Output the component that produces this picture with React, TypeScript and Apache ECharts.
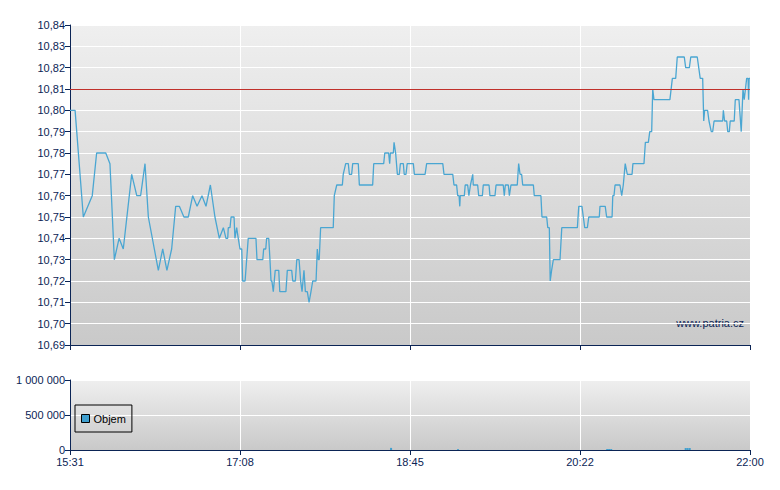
import React, { useEffect, useRef } from 'react';
import * as echarts from 'echarts';

// minuty od 15:31 a cena
const pricePoints: [number, number][] = [
  [0, 10.8], [2.9, 10.8], [7.6, 10.75], [12.7, 10.76], [15.2, 10.78], [20.4, 10.78], [22.8, 10.775],
  [25.3, 10.73], [28.0, 10.74], [30.4, 10.735], [35.2, 10.77], [38.1, 10.76], [40.3, 10.76], [42.8, 10.775],
  [44.7, 10.75], [50.4, 10.725], [52.9, 10.735], [55.3, 10.725], [58.0, 10.735], [60.3, 10.755], [62.4, 10.755],
  [65.0, 10.75], [67.5, 10.75], [70.0, 10.76], [72.5, 10.755], [75.3, 10.76], [77.6, 10.755], [80.1, 10.765],
  [82.7, 10.75], [85.2, 10.74], [87.5, 10.745], [89.0, 10.74], [90.0, 10.74], [90.3, 10.745], [91.3, 10.745],
  [91.9, 10.75], [93.6, 10.75], [94.1, 10.74], [95.1, 10.745], [96.0, 10.74], [97.0, 10.735], [98.0, 10.735],
  [98.5, 10.72], [99.9, 10.72], [100.8, 10.73], [101.7, 10.74], [106.1, 10.74], [106.7, 10.73], [110.0, 10.73],
  [110.5, 10.735], [111.7, 10.735], [112.2, 10.74], [113.4, 10.74], [114.1, 10.73], [114.7, 10.72], [115.2, 10.72],
  [116.0, 10.715], [117.1, 10.725], [119.1, 10.725], [119.7, 10.715], [123.2, 10.715], [124.0, 10.725],
  [126.5, 10.725], [127.1, 10.72], [128.6, 10.72], [129.4, 10.73], [130.7, 10.73], [131.6, 10.72], [132.4, 10.715],
  [133.5, 10.725], [134.3, 10.715], [135.4, 10.715], [136.4, 10.71], [137.5, 10.715], [138.5, 10.72], [140.4, 10.72],
  [141.1, 10.735], [141.7, 10.73], [142.2, 10.73], [143.0, 10.745], [150.2, 10.745], [150.8, 10.76], [152.2, 10.765],
  [155.4, 10.765], [155.9, 10.77], [157.3, 10.775], [158.8, 10.775], [159.4, 10.77], [160.7, 10.77], [161.3, 10.775],
  [164.5, 10.775], [165.1, 10.765], [172.7, 10.765], [173.3, 10.775], [179.0, 10.775], [179.6, 10.78], [181.8, 10.78],
  [182.4, 10.775], [182.8, 10.78], [184.5, 10.78], [184.9, 10.785], [185.8, 10.78], [186.8, 10.77], [187.9, 10.77],
  [188.5, 10.775], [190.2, 10.775], [190.7, 10.77], [191.7, 10.77], [192.4, 10.775], [195.9, 10.775], [196.5, 10.77],
  [202.6, 10.77], [203.5, 10.775], [212.7, 10.775], [213.4, 10.77], [218.4, 10.77], [219.1, 10.765], [220.6, 10.765],
  [221.2, 10.76], [222.0, 10.76], [222.4, 10.755], [222.7, 10.76], [225.0, 10.76], [225.5, 10.765], [226.9, 10.765],
  [227.6, 10.76], [228.5, 10.765], [229.8, 10.77], [230.1, 10.765], [232.6, 10.765], [233.2, 10.76], [235.3, 10.76],
  [235.8, 10.765], [239.1, 10.765], [239.6, 10.76], [242.5, 10.76], [243.1, 10.765], [247.2, 10.765], [247.8, 10.76],
  [248.4, 10.765], [250.1, 10.765], [250.7, 10.76], [251.6, 10.765], [255.2, 10.765], [256.0, 10.775], [256.8, 10.77],
  [257.7, 10.77], [258.3, 10.765], [264.4, 10.765], [264.9, 10.76], [268.7, 10.76], [269.3, 10.75], [272.0, 10.75],
  [272.6, 10.745], [273.5, 10.745], [274.0, 10.72], [274.8, 10.725], [275.8, 10.73], [279.6, 10.73], [280.6, 10.745],
  [289.5, 10.745], [290.3, 10.755], [292.1, 10.755], [292.9, 10.75], [293.7, 10.745], [295.2, 10.745], [296.0, 10.75],
  [302.0, 10.75], [302.4, 10.755], [305.4, 10.755], [306.2, 10.75], [309.3, 10.75], [309.7, 10.76], [310.4, 10.76],
  [311.0, 10.765], [313.8, 10.765], [314.8, 10.76], [315.7, 10.765], [316.8, 10.775], [318.0, 10.77], [320.7, 10.77],
  [321.2, 10.775], [327.5, 10.775], [328.3, 10.785], [330.0, 10.785], [330.8, 10.79], [331.9, 10.79], [332.5, 10.81],
  [333.2, 10.805], [342.3, 10.805], [343.7, 10.815], [345.6, 10.815], [346.5, 10.825], [350.5, 10.825], [351.3, 10.82],
  [353.4, 10.82], [354.2, 10.825], [357.9, 10.825], [359.6, 10.815], [361.0, 10.815], [361.6, 10.795], [362.1, 10.8],
  [363.8, 10.8], [364.6, 10.795], [365.9, 10.79], [366.7, 10.79], [367.5, 10.795], [372.4, 10.795], [372.8, 10.8],
  [373.5, 10.795], [374.7, 10.795], [375.3, 10.79], [376.2, 10.79], [376.7, 10.795], [379.0, 10.795], [379.6, 10.805],
  [381.7, 10.805], [383.0, 10.79], [384.0, 10.81], [384.7, 10.805], [386.1, 10.815], [386.9, 10.815], [387.2, 10.805],
  [387.5, 10.815], [388, 10.815],
];

const volumeTimes = [183.2, 221.4, 306.5, 307.6, 308.8, 351.3, 352.4, 353.6];
const volumeValues = [30000, 12000, 14000, 14000, 14000, 28000, 28000, 28000];

const timeLabels = ['15:31', '17:08', '18:45', '20:22', '22:00'];
const referencePrice = 10.81;

const NAVY = '#0b2455';
const FONT = 'Liberation Sans, Arial, sans-serif';

const bg = () => ({
  type: 'linear', x: 0, y: 0, x2: 0, y2: 1,
  colorStops: [
    { offset: 0, color: '#efefef' },
    { offset: 1, color: '#c9c9c9' },
  ],
});

const App: React.FC = () => {
  const chartRef = useRef<HTMLDivElement>(null);

  useEffect(() => {
    if (!chartRef.current) return;
    const chart = echarts.init(chartRef.current, null, { renderer: 'svg' });

    const xBase = {
      type: 'value',
      min: 0,
      max: 388,
      interval: 97,
      axisLine: { show: true, lineStyle: { color: NAVY, width: 1 } },
      axisTick: { show: true, length: 5, lineStyle: { color: NAVY } },
      splitLine: { show: true, lineStyle: { color: '#ffffff', width: 1 } },
    };

    const option = {
      animation: false,
      textStyle: { fontFamily: FONT },
      grid: [
        { left: 70, right: 30, top: 25, height: 320, show: true, backgroundColor: bg(), borderWidth: 0 },
        { left: 70, right: 30, top: 380, height: 70, show: true, backgroundColor: bg(), borderWidth: 0 },
      ],
      legend: {
        data: ['Objem'],
        left: 75,
        top: 405,
        orient: 'vertical',
        padding: [8, 6, 8, 6],
        borderColor: '#000',
        borderWidth: 1,
        itemWidth: 8,
        itemHeight: 8,
        itemGap: 4,
        icon: 'rect',
        itemStyle: { borderColor: '#000', borderWidth: 1 },
        textStyle: { color: '#000', fontSize: 11, fontFamily: FONT, padding: [0, 0, 0, -1] },
      },
      xAxis: [
        { ...xBase, gridIndex: 0, axisLabel: { show: false } },
        {
          ...xBase,
          gridIndex: 1,
          axisLabel: {
            color: NAVY,
            fontSize: 11,
            fontFamily: FONT,
            margin: 6,
            formatter: (v: number) => timeLabels[Math.round(v / 97)] ?? '',
          },
        },
      ],
      yAxis: [
        {
          type: 'value',
          gridIndex: 0,
          min: 10.69,
          max: 10.84,
          interval: 0.01,
          axisLine: { show: true, lineStyle: { color: NAVY } },
          axisTick: { show: true, length: 5, lineStyle: { color: NAVY } },
          axisLabel: {
            color: NAVY,
            fontSize: 11,
            fontFamily: FONT,
            margin: 5,
            formatter: (v: number) => v.toFixed(2).replace('.', ','),
          },
          splitLine: { lineStyle: { color: '#ffffff', width: 1 } },
        },
        {
          type: 'value',
          gridIndex: 1,
          min: 0,
          max: 1000000,
          interval: 500000,
          axisLine: { show: true, lineStyle: { color: NAVY } },
          axisTick: { show: true, length: 5, lineStyle: { color: NAVY } },
          axisLabel: {
            color: NAVY,
            fontSize: 11,
            fontFamily: FONT,
            margin: 5,
            formatter: (v: number) => String(v).replace(/\B(?=(\d{3})+(?!\d))/g, ' '),
          },
          splitLine: { lineStyle: { color: '#ffffff', width: 1 } },
        },
      ],
      graphic: [
        {
          type: 'text',
          right: 36,
          top: 317,
          style: { text: 'www.patria.cz', fill: NAVY, font: `11px ${FONT}` },
        },
      ],
      series: [
        {
          name: 'Cena',
          type: 'line',
          xAxisIndex: 0,
          yAxisIndex: 0,
          data: pricePoints,
          showSymbol: false,
          lineStyle: { color: '#4aa6d2', width: 1.3 },
          markLine: {
            silent: true,
            symbol: 'none',
            label: { show: false },
            lineStyle: { color: '#c0302a', width: 1, type: 'solid' },
            data: [{ yAxis: referencePrice }],
          },
        },
        {
          name: 'Objem',
          type: 'bar',
          xAxisIndex: 1,
          yAxisIndex: 1,
          barWidth: 2,
          itemStyle: { color: '#3f9fcf' },
          data: volumeTimes.map((t, i) => [t, volumeValues[i]]),
        },
      ],
    };

    chart.setOption(option);
    return () => {
      chart.dispose();
    };
  }, []);

  return (
    <div
      ref={chartRef}
      style={{ position: 'absolute', left: 0, top: 0, width: 780, height: 490, background: '#fff' }}
    />
  );
};

export default App;
